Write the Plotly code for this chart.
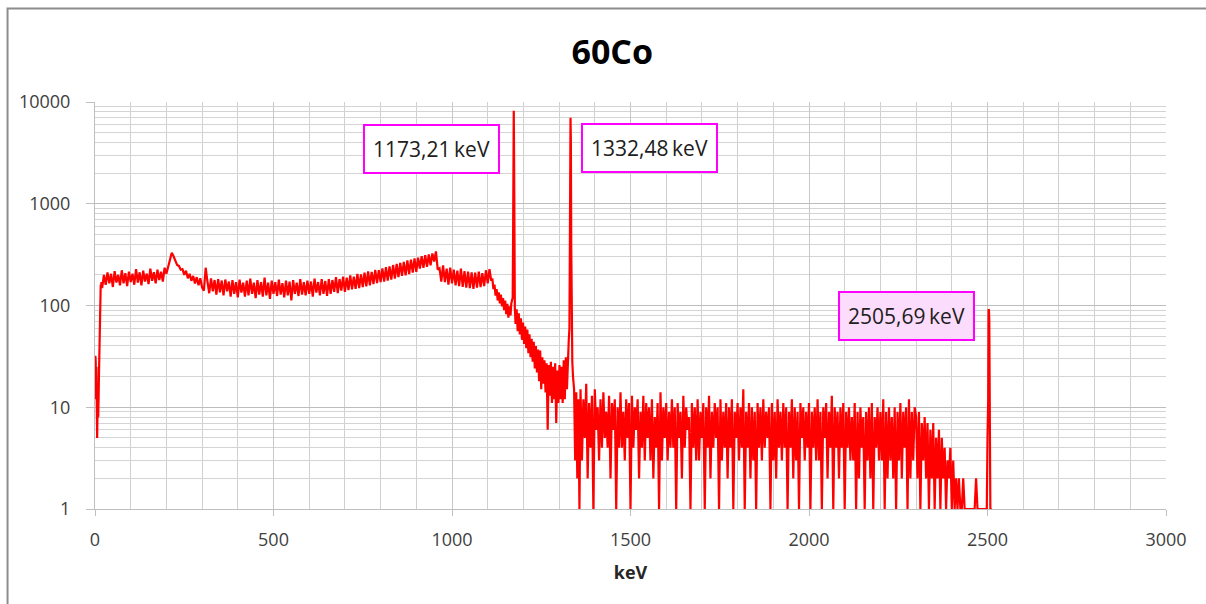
import plotly.graph_objects as go

# ---------------- data ----------------
# low-energy threshold region: 1 keV channels starting at 0 keV
low_start, low_step = 0, 1
low_counts = [20, 32, 28, 12, 25, 10, 5, 9, 14, 8, 12, 20, 35, 60, 100, 140, 160, 150, 170, 160]

# Compton continuum: 5 keV bins starting at 20 keV
cont_start, cont_step = 20, 5
cont_counts = [
    148, 200, 160, 212, 165, 205, 152, 218, 168, 200, 158, 222, 165, 208, 155, 215, 170, 205, 160, 228,
    168, 212, 158, 220, 172, 206, 162, 230, 175, 212, 165, 225, 178, 215, 172, 235, 205,
    240, 280, 330, 305, 280, 250, 245, 225, 228, 200, 220, 185, 205, 175, 195, 165, 190, 158, 185, 150,
    140, 235, 172, 132, 185, 138, 178, 128, 182, 135, 176, 126, 180, 138, 172, 122, 178, 130, 170, 120,
    180, 134, 168, 122, 176, 126, 184, 130, 168, 118, 178, 128, 170, 122, 188, 126, 168, 116, 176, 130,
    170, 124, 180, 128, 166, 120, 176, 126, 172, 112, 178, 130, 168, 124, 182, 128, 170, 126, 176, 130,
    172, 122, 184, 134, 170, 126, 182, 130, 174, 124,
    182, 130, 178, 136, 190, 132, 182, 140, 192, 136, 188, 142, 198, 144, 192, 146, 204, 148, 202, 152,
    210, 154, 216, 158, 214, 162, 224, 166, 222, 170, 232, 172, 238, 176, 242, 180, 250, 184, 256, 190,
    262, 196, 268, 198, 278, 204, 282, 210, 290, 214,
    295, 230, 305, 235, 312, 240, 318, 248, 325, 270, 340, 225,
    232, 172, 248, 170, 230, 160, 235, 165, 225, 158, 220, 155, 230, 152, 218, 150, 215, 148, 212, 146,
    210, 150, 215, 152, 208, 155, 222, 165, 228, 175,
]

# photopeak region (1173 / 1332 keV lines)
peak_energy = [1113, 1116, 1119, 1122, 1125, 1128, 1131, 1134, 1137, 1140,
               1143, 1146, 1149, 1152, 1155, 1158, 1161, 1164, 1166, 1168,
               1170, 1171, 1172, 1173, 1174, 1175, 1176, 1178, 1181, 1184,
               1187, 1190, 1193, 1196, 1199, 1202, 1205, 1208, 1211, 1214,
               1217, 1220, 1223, 1226, 1229, 1232, 1235, 1238, 1241, 1244,
               1247, 1250, 1253, 1256, 1259, 1262, 1265, 1268, 1271, 1274,
               1277, 1280, 1283, 1286, 1289, 1292, 1295, 1298, 1301, 1304,
               1307, 1310, 1313, 1316, 1319, 1322, 1325, 1327, 1329, 1330,
               1331, 1332, 1333, 1334, 1335, 1337, 1339, 1342, 1345, 1348,
               1351, 1354, 1357]
peak_counts = [185, 145, 160, 125, 145, 112, 135, 105, 128, 98,
               118, 90, 112, 82, 104, 76, 98, 80, 104, 110,
               120, 400, 3000, 8200, 2500, 300, 95, 66, 92, 56,
               84, 52, 75, 46, 68, 42, 62, 38, 58, 34,
               52, 31, 47, 28, 44, 24, 40, 22, 37, 18,
               36, 15, 31, 17, 29, 14, 27, 6, 26, 13,
               28, 11, 25, 12, 27, 7, 23, 11, 26, 12,
               25, 11, 29, 12, 31, 15, 37, 45, 60, 300,
               2300, 7000, 4000, 400, 60, 28, 20, 15, 3, 14,
               2, 12, 1]

# high-energy tail: 4 keV bins starting at 1360 keV
noise_start, noise_step = 1360, 4
noise_counts = [
    15, 3, 12, 5, 17, 2, 11, 4, 13, 1, 15, 6, 10, 3, 12, 4, 14, 5, 9, 4,
    13, 2, 11, 6, 12, 1, 10, 4, 14, 4, 9, 3, 12, 5, 11, 1, 13, 4, 10, 6,
    12, 2, 9, 4, 13, 3, 11, 5, 10, 3, 12, 2, 8, 4, 11, 1, 14, 3, 10, 5,
    11, 3, 9, 4, 12, 4, 10, 1, 11, 5, 9, 2, 13, 4, 10, 6, 8, 1, 11, 4,
    10, 3, 12, 3, 9, 5, 11, 1, 10, 4, 13, 2, 9, 4, 11, 5, 10, 1, 12, 3,
    9, 4, 11, 2, 10, 4, 12, 1, 9, 5, 11, 3, 10, 4, 15, 1, 9, 4, 11, 2,
    10, 3, 9, 1, 11, 4, 10, 3, 12, 4, 9, 5, 10, 1, 11, 3, 9, 2, 12, 4,
    9, 3, 11, 4, 10, 1, 9, 4, 12, 2, 10, 3, 9, 1, 11, 5, 10, 3, 9, 4,
    11, 1, 9, 4, 10, 3, 12, 3, 9, 1, 10, 5, 11, 2, 9, 4, 13, 1, 10, 4,
    9, 2, 10, 4, 11, 1, 9, 4, 10, 3, 8, 3, 11, 1, 9, 2, 10, 4, 8, 1,
    9, 3, 10, 2, 11, 1, 8, 4, 10, 3, 9, 3, 12, 1, 9, 2, 10, 3, 8, 2,
    10, 1, 9, 3, 11, 2, 9, 4, 10, 1, 12, 2, 9, 3, 10,
    8, 2, 9, 1, 7, 3, 8, 2, 7, 1, 6, 2, 7, 1, 5, 2, 6, 1, 5, 2,
    4, 1, 3, 2, 4, 1, 3, 1, 2, 1, 2, 1, 1, 2, 1, 1, 1, 1, 1, 1,
    1, 1, 2, 1, 1, 1, 1, 1, 1, 1,
]

# 2505 keV sum peak
sum_energy = [2498, 2500, 2502, 2503, 2504, 2505, 2506, 2507, 2508, 2512]
sum_counts = [1, 5, 12, 92, 90, 72, 12, 5, 1, 1]

peak_labels = ["1173,21\u2009keV", "1332,48\u2009keV", "2505,69\u2009keV"]
title_text = "60Co"
x_title = "keV"
y_tick_vals = [1, 10, 100, 1000, 10000]

# ---------------- assemble spectrum ----------------
energy = []
counts = []
for start, step, vals in [(low_start, low_step, low_counts), (cont_start, cont_step, cont_counts)]:
    energy += [start + step * i for i in range(len(vals))]
    counts += vals
energy += peak_energy
counts += peak_counts
energy += [noise_start + noise_step * i for i in range(len(noise_counts))]
counts += noise_counts
energy += sum_energy
counts += sum_counts

FONT = "Open Sans"
fig = go.Figure()
fig.add_trace(go.Scatter(x=energy, y=counts, mode="lines",
                         line=dict(color="#ff0000", width=2.2), showlegend=False,
                         hoverinfo="skip"))

# plot area geometry (pixels) used for paper-coordinate placement
L, R, T, B = 94.5, 1166, 102, 509
W, H = R - L, B - T
def px(xp):
    return (xp - L) / W
def py(yp):
    return (B - yp) / H

fig.update_layout(
    width=1206, height=604,
    margin=dict(l=L, r=1206 - R, t=T, b=604 - B, pad=0),
    paper_bgcolor="white", plot_bgcolor="white",
    font=dict(family=FONT, color="#404040"),
    title=dict(text="<b>" + title_text + "</b>", x=px(612), xref="paper", xanchor="center",
               y=1 - 52 / 604, yanchor="middle",
               font=dict(family=FONT, size=34, color="#000000")),
    xaxis=dict(range=[0, 3000], dtick=500, tick0=0, showgrid=True, gridcolor="#c8c8c8",
               gridwidth=1, zeroline=False, showline=True, linecolor="#bfbfbf", linewidth=1,
               ticks="outside", ticklen=6, tickcolor="#bfbfbf",
               tickfont=dict(size=18, color="#404040"), ticklabelstandoff=8,
               minor=dict(dtick=100, showgrid=True, gridcolor="#d0d0d0", ticks=""),
               title=dict(text="<b>" + x_title + "</b>", font=dict(size=18, color="#262626"),
                          standoff=16)),
    yaxis=dict(type="log", range=[0, 4], tickvals=y_tick_vals,
               ticktext=[str(v) for v in y_tick_vals], showgrid=True, gridcolor="#bdbdbd",
               zeroline=False, showline=True, linecolor="#bfbfbf", linewidth=1,
               ticks="outside", ticklen=8, tickcolor="#bfbfbf",
               tickfont=dict(size=18, color="#404040"), ticklabelstandoff=12,
               minor=dict(dtick="D1", showgrid=True, gridcolor="#d4d4d4", ticks="")),
)

# chart outline (only left and top edges fall inside the picture)
fig.add_shape(type="rect", xref="paper", yref="paper",
              x0=px(7), x1=px(1320), y0=py(700), y1=py(8.5),
              line=dict(color="#8c8c8c", width=2), fillcolor="rgba(0,0,0,0)", layer="below")

boxes = [
    (peak_labels[0], 431.5, 149, "white"),
    (peak_labels[1], 649.5, 147.5, "white"),
    (peak_labels[2], 906, 316, "#fcdcfc"),
]
for text, cx, cy, bg in boxes:
    fig.add_annotation(text=text, xref="paper", yref="paper", x=px(cx), y=py(cy),
                       xanchor="center", yanchor="middle", showarrow=False,
                       font=dict(family=FONT, size=21, color="#202020"),
                       bgcolor=bg, bordercolor="#ff00ff", borderwidth=2, borderpad=2,
                       width=129, height=42)

fig.write_html("out.html")
